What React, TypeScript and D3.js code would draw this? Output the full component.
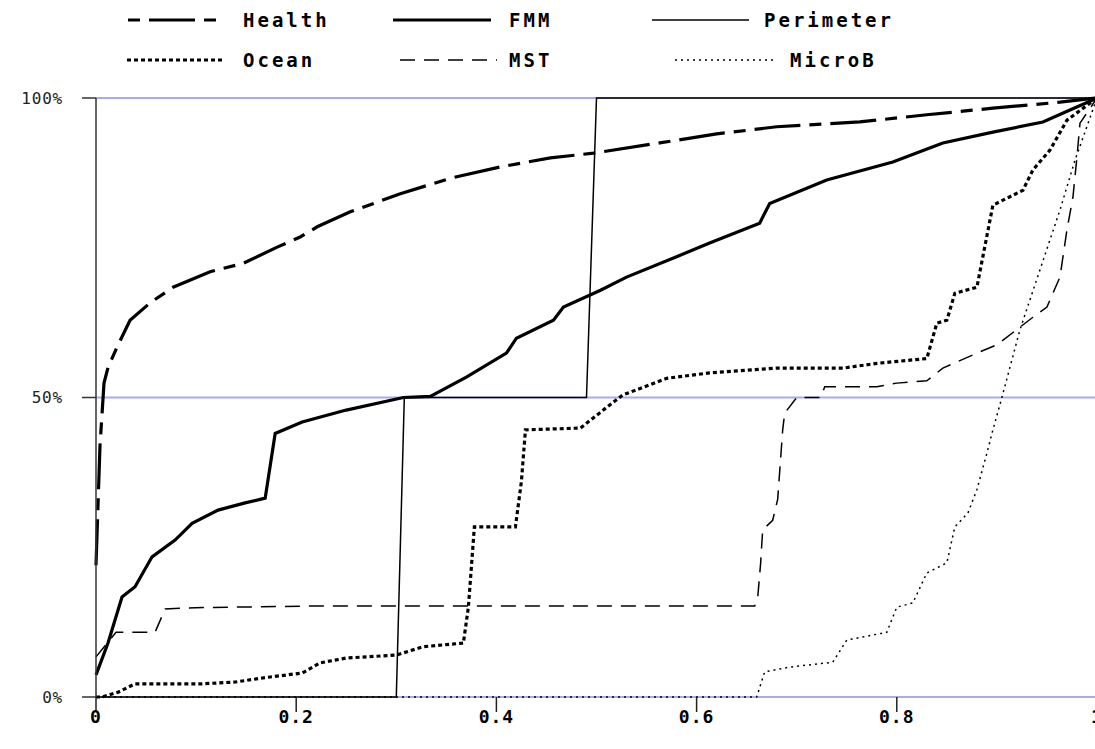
import React from "react";
import * as d3 from "d3";

type Pt = [number, number];

// cumulative share curves
const health: Pt[] = [
  [0, 0.22], [0.004, 0.42], [0.008, 0.524], [0.012, 0.55], [0.021, 0.584],
  [0.034, 0.629], [0.054, 0.658], [0.077, 0.684], [0.114, 0.71], [0.147, 0.724],
  [0.181, 0.751], [0.204, 0.768], [0.221, 0.785], [0.254, 0.81], [0.304, 0.84],
  [0.354, 0.866], [0.404, 0.885], [0.454, 0.9], [0.497, 0.908], [0.563, 0.925],
  [0.62, 0.94], [0.68, 0.952], [0.763, 0.96], [0.83, 0.972], [0.896, 0.983],
  [0.963, 0.993], [1, 1],
];

const fmm: Pt[] = [
  [0, 0.037], [0.012, 0.09], [0.026, 0.167], [0.039, 0.184], [0.056, 0.234],
  [0.079, 0.262], [0.096, 0.29], [0.122, 0.312], [0.149, 0.324], [0.169, 0.332],
  [0.179, 0.44], [0.206, 0.459], [0.25, 0.479], [0.307, 0.5], [0.334, 0.502],
  [0.37, 0.534], [0.41, 0.574], [0.42, 0.599], [0.457, 0.629], [0.467, 0.651],
  [0.504, 0.679], [0.53, 0.701], [0.58, 0.735], [0.613, 0.758], [0.663, 0.791],
  [0.673, 0.824], [0.73, 0.863], [0.796, 0.893], [0.846, 0.925], [0.896, 0.943],
  [0.946, 0.96], [0.973, 0.98], [1, 1],
];

const perimeter: Pt[] = [
  [0, 0], [0.3, 0], [0.308, 0.5], [0.49, 0.5], [0.5, 1], [1, 1],
];

const ocean: Pt[] = [
  [0, 0], [0.006, 0], [0.022, 0.008], [0.039, 0.022], [0.106, 0.022],
  [0.139, 0.025], [0.172, 0.033], [0.206, 0.04], [0.224, 0.057], [0.25, 0.065],
  [0.3, 0.07], [0.327, 0.084], [0.367, 0.09], [0.372, 0.15], [0.378, 0.284],
  [0.419, 0.284], [0.425, 0.36], [0.429, 0.446], [0.484, 0.449], [0.506, 0.478],
  [0.526, 0.504], [0.57, 0.532], [0.613, 0.541], [0.68, 0.549], [0.746, 0.549],
  [0.78, 0.557], [0.83, 0.565], [0.84, 0.624], [0.85, 0.629], [0.858, 0.674],
  [0.88, 0.684], [0.896, 0.821], [0.926, 0.846], [0.936, 0.88], [0.953, 0.913],
  [0.97, 0.963], [1, 1],
];

const mst: Pt[] = [
  [0, 0.067], [0.02, 0.108], [0.059, 0.108], [0.069, 0.147], [0.099, 0.149],
  [0.219, 0.152], [0.658, 0.152], [0.661, 0.165], [0.664, 0.224], [0.666, 0.279],
  [0.676, 0.295], [0.681, 0.33], [0.686, 0.446], [0.688, 0.474], [0.7, 0.5],
  [0.724, 0.5], [0.728, 0.518], [0.78, 0.518], [0.8, 0.524], [0.83, 0.528],
  [0.846, 0.549], [0.88, 0.574], [0.9, 0.588], [0.936, 0.634], [0.95, 0.651],
  [0.963, 0.701], [0.97, 0.78], [0.976, 0.835], [0.98, 0.902], [0.983, 0.958],
  [1, 1],
];

const microB: Pt[] = [
  [0, 0], [0.66, 0], [0.668, 0.042], [0.693, 0.05], [0.736, 0.058],
  [0.75, 0.095], [0.79, 0.108], [0.8, 0.15], [0.816, 0.157], [0.83, 0.207],
  [0.85, 0.224], [0.858, 0.284], [0.871, 0.307], [0.88, 0.346], [0.89, 0.407],
  [0.896, 0.446], [0.905, 0.5], [0.923, 0.613], [0.943, 0.713], [0.963, 0.813],
  [0.978, 0.896], [1, 1],
];

const xTicks = [0, 0.2, 0.4, 0.6, 0.8, 1];
const yTicks = [0, 0.5, 1];

const seriesNames = ["Health", "FMM", "Perimeter", "Ocean", "MST", "MicroB"];

const styles: Record<string, { w: number; dash?: string; legendOffset?: number }> = {
  Health: { w: 3.2, dash: "46 9 12 9", legendOffset: 55 },
  FMM: { w: 3.2 },
  Perimeter: { w: 1.5 },
  Ocean: { w: 3.2, dash: "4 3" },
  MST: { w: 1.5, dash: "15 9" },
  MicroB: { w: 1.5, dash: "2 4" },
};

// legend slots: [lineStart, lineEnd, textX, rowY]
const legendPos: Record<string, number[]> = {
  Health: [128, 222, 243, 20],
  FMM: [393, 491, 509, 20],
  Perimeter: [652, 749, 764, 20],
  Ocean: [127, 223, 243, 60],
  MST: [400, 497, 509, 60],
  MicroB: [675, 773, 790, 60],
};

const App = () => {
  const x = d3.scaleLinear().domain([0, 1]).range([96, 1097]);
  const y = d3.scaleLinear().domain([0, 1]).range([697, 98]);
  const line = d3
    .line<Pt>()
    .x((d) => x(d[0]))
    .y((d) => y(d[1]));

  const data: Record<string, Pt[]> = {
    Health: health,
    FMM: fmm,
    Perimeter: perimeter,
    Ocean: ocean,
    MST: mst,
    MicroB: microB,
  };

  const monoFont = "'DejaVu Sans Mono', monospace";

  return (
    <svg
      width={1095}
      height={749}
      style={{ position: "absolute", left: 0, top: 0, background: "#fff" }}
    >
      {/* grid */}
      {yTicks.map((t) => (
        <line
          key={"g" + t}
          x1={x(0)}
          x2={1095}
          y1={y(t)}
          y2={y(t)}
          stroke="#a9a9f5"
          strokeWidth={2}
        />
      ))}

      {/* series */}
      {seriesNames.map((name) => (
        <path
          key={name}
          d={line(data[name]) || ""}
          fill="none"
          stroke="#000"
          strokeWidth={styles[name].w}
          strokeDasharray={styles[name].dash}
          strokeLinejoin="miter"
        />
      ))}

      {/* y axis */}
      <line x1={x(0)} x2={x(0)} y1={y(1)} y2={y(0)} stroke="#333" strokeWidth={1.5} />
      {yTicks.map((t) => (
        <g key={"y" + t}>
          <line x1={82} x2={x(0)} y1={y(t)} y2={y(t)} stroke="#333" strokeWidth={1.5} />
          <text
            x={63}
            y={y(t)}
            textAnchor="end"
            dominantBaseline="central"
            fontFamily={monoFont}
            fontSize={16}
            letterSpacing={0.8}
            fill="#222"
          >
            {d3.format(".0%")(t)}
          </text>
        </g>
      ))}

      {/* x axis ticks */}
      {xTicks.map((t) => (
        <g key={"x" + t}>
          <line x1={x(t)} x2={x(t)} y1={y(0)} y2={712} stroke="#222" strokeWidth={1.5} />
          <text
            x={x(t)}
            y={716}
            textAnchor="middle"
            dominantBaseline="central"
            fontFamily={monoFont}
            fontWeight="bold"
            fontSize={18}
            letterSpacing={1}
            fill="#000"
          >
            {t === 0 || t === 1 ? String(t) : d3.format(".1f")(t)}
          </text>
        </g>
      ))}

      {/* legend */}
      {seriesNames.map((name) => {
        const [a, b, tx, ry] = legendPos[name];
        return (
          <g key={"l" + name}>
            <line
              x1={a}
              x2={b}
              y1={ry}
              y2={ry}
              stroke="#000"
              strokeWidth={styles[name].w}
              strokeDasharray={styles[name].dash}
              strokeDashoffset={styles[name].legendOffset}
            />
            <text
              x={tx}
              y={ry}
              dominantBaseline="central"
              fontFamily={monoFont}
              fontWeight="bold"
              fontSize={19}
              letterSpacing={3}
              fill="#000"
            >
              {name}
            </text>
          </g>
        );
      })}
    </svg>
  );
};

export default App;
